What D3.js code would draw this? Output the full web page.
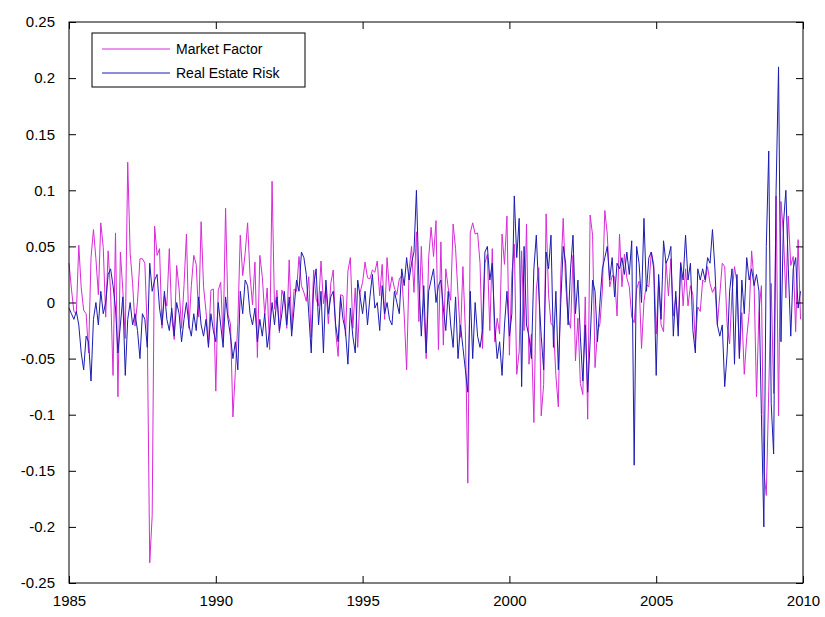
<!DOCTYPE html>
<html>
<head>
<meta charset="utf-8">
<script src="https://cdn.jsdelivr.net/npm/d3@7"></script>
<style>
  body { margin: 0; background: #fff; }
  text { font-family: Arial, "Liberation Sans", sans-serif; }
</style>
</head>
<body>
<div id="chart"></div>
<script>
// Monthly values, Jan 1985 .. Dec 2009, 12 per row
const marketFactor = [
  0.035, 0.012, -0.008, -0.010, 0.051, 0.013, -0.007, -0.010, -0.045, 0.040, 0.065, 0.039,
  0.007, 0.071, 0.049, -0.013, 0.046, 0.010, -0.065, 0.062, -0.084, 0.045, 0.011, -0.032,
  0.125, 0.044, 0.017, -0.021, 0.001, 0.039, 0.039, 0.035, -0.026, -0.232, -0.190, 0.068,
  0.042, 0.048, -0.023, 0.006, -0.003, 0.048, -0.013, -0.033, 0.033, 0.012, -0.023, 0.015,
  0.061, -0.023, 0.015, 0.042, 0.034, -0.013, 0.072, 0.014, -0.008, -0.037, 0.011, 0.012,
  -0.079, 0.011, 0.018, -0.034, 0.084, -0.011, -0.019, -0.102, -0.061, -0.019, 0.060, 0.024,
  0.044, 0.071, 0.024, -0.002, 0.036, -0.049, 0.042, 0.023, -0.011, 0.013, -0.042, 0.108,
  -0.006, 0.011, -0.027, 0.011, 0.003, -0.023, 0.038, -0.024, 0.012, 0.010, 0.041, 0.015,
  0.009, 0.001, 0.023, -0.031, 0.029, 0.003, -0.003, 0.037, -0.001, 0.014, -0.019, 0.017,
  0.029, -0.026, -0.048, 0.007, 0.006, -0.030, 0.028, 0.040, -0.023, 0.013, -0.040, 0.009,
  0.018, 0.036, 0.022, 0.021, 0.029, 0.027, 0.037, 0.006, 0.034, -0.015, 0.040, 0.010,
  0.023, 0.013, 0.007, 0.021, 0.024, -0.011, -0.060, 0.028, 0.050, 0.009, 0.063, -0.017,
  0.050, -0.005, -0.050, 0.040, 0.067, 0.041, 0.073, -0.042, 0.054, -0.038, 0.030, 0.013,
  0.002, 0.070, 0.048, 0.007, -0.031, 0.032, -0.025, -0.161, 0.062, 0.071, 0.061, 0.062,
  0.035, -0.041, 0.035, 0.043, -0.025, 0.048, -0.035, -0.014, -0.028, 0.061, 0.034, 0.077,
  -0.047, 0.025, 0.052, -0.064, -0.044, 0.046, -0.025, 0.070, -0.055, -0.028, -0.107, 0.012,
  0.031, -0.101, -0.073, 0.079, 0.007, -0.019, -0.021, -0.065, -0.093, 0.025, 0.075, 0.016,
  -0.014, -0.023, 0.042, -0.052, -0.014, -0.072, -0.082, 0.005, -0.104, 0.078, 0.060, -0.058,
  -0.026, -0.019, 0.011, 0.082, 0.061, 0.014, 0.024, 0.023, -0.012, 0.061, 0.014, 0.043,
  0.022, 0.014, -0.013, -0.018, 0.012, 0.019, -0.041, 0.001, 0.016, 0.014, 0.045, 0.034,
  -0.028, 0.019, -0.020, -0.026, 0.037, 0.006, 0.039, -0.012, 0.005, -0.020, 0.036, -0.003,
  0.030, -0.003, 0.015, 0.007, -0.036, -0.004, -0.008, 0.020, 0.018, 0.032, 0.017, 0.009,
  0.014, -0.020, 0.007, 0.035, 0.032, -0.020, -0.037, 0.009, 0.032, 0.018, -0.048, -0.009,
  -0.064, -0.031, -0.009, 0.046, 0.019, -0.084, -0.008, 0.015, -0.150, -0.172, -0.079, 0.017,
  -0.081, 0.095, -0.101, 0.090, 0.062, 0.004, 0.077, 0.033, 0.041, -0.026, 0.056, -0.015
];

const realEstateRisk = [
  -0.005, -0.010, -0.015, -0.008, -0.020, -0.045, -0.060, -0.030, -0.035, -0.070, -0.015, 0.000,
  -0.020, 0.010, -0.010, 0.000, 0.025, 0.030, 0.015, -0.005, -0.045, -0.020, 0.005, -0.065,
  -0.015, 0.000, -0.020, -0.010, -0.025, -0.050, -0.010, -0.015, -0.040, 0.035, 0.010, 0.020,
  0.025, -0.005, -0.020, 0.010, -0.015, -0.025, -0.005, -0.030, 0.000, -0.010, -0.035, -0.015,
  0.000, -0.020, -0.030, -0.010, -0.025, 0.005, -0.020, -0.030, -0.015, -0.040, -0.010, -0.025,
  -0.035, 0.000, -0.020, -0.040, 0.005, -0.015, -0.030, -0.050, -0.035, -0.060, 0.010, -0.010,
  0.020, 0.015, -0.010, -0.020, -0.005, -0.035, -0.015, -0.030, -0.010, -0.040, -0.025, 0.000,
  -0.020, 0.005, -0.025, -0.010, 0.010, -0.020, 0.005, -0.030, -0.005, 0.020, 0.010, 0.045,
  0.040, 0.025, -0.010, -0.045, 0.015, 0.030, -0.020, 0.010, -0.045, 0.020, -0.010, 0.005,
  0.010, -0.020, -0.035, 0.005, -0.015, -0.025, -0.055, -0.005, -0.030, -0.045, 0.020, 0.005,
  -0.010, 0.010, -0.020, 0.005, 0.025, -0.005, 0.000, -0.025, 0.015, -0.010, 0.000, -0.015,
  -0.020, 0.010, 0.000, -0.010, 0.030, 0.015, 0.040, 0.020, 0.035, 0.045, 0.100, 0.020,
  -0.030, 0.015, -0.045, 0.010, 0.020, 0.030, 0.000, 0.015, 0.020, -0.005, -0.025, 0.010,
  -0.020, -0.040, 0.005, -0.050, -0.020, -0.040, -0.060, -0.080, 0.010, -0.050, 0.000, -0.030,
  -0.040, -0.025, 0.045, 0.050, 0.020, 0.035, -0.020, -0.050, -0.035, -0.065, -0.020, 0.010,
  -0.030, -0.010, 0.095, 0.040, 0.075, -0.075, 0.050, -0.020, -0.030, -0.050, 0.030, 0.060,
  0.010, -0.030, -0.060, 0.045, 0.030, 0.060, -0.040, 0.010, -0.060, 0.000, 0.050, 0.035,
  -0.020, 0.030, 0.060, -0.010, 0.020, -0.030, -0.070, -0.020, -0.080, -0.035, 0.020, 0.010,
  -0.035, 0.000, 0.030, 0.040, 0.050, 0.020, 0.040, 0.005, 0.035, 0.030, 0.040, 0.025,
  0.045, 0.025, 0.055, -0.145, 0.050, 0.035, 0.000, 0.075, 0.010, 0.040, 0.045, 0.030,
  -0.065, 0.025, -0.015, 0.055, 0.035, 0.040, 0.050, -0.030, 0.010, -0.030, 0.035, 0.020,
  0.060, 0.020, 0.035, -0.025, -0.045, 0.030, 0.020, 0.030, 0.020, 0.040, 0.035, 0.065,
  0.030, -0.020, -0.030, -0.020, -0.075, -0.045, 0.010, 0.030, -0.055, 0.025, -0.050, 0.020,
  -0.010, 0.040, 0.020, 0.030, 0.015, 0.025, 0.010, -0.100, -0.200, 0.050, 0.135, -0.090,
  -0.135, 0.100, 0.210, -0.035, 0.070, 0.100, 0.030, -0.030, 0.030, 0.040, -0.005, 0.010
];

const seriesNames = ["Market Factor", "Real Estate Risk"];
const seriesColors = ["#d82ad8", "#1c1cb0"];
const xTicks = [1985, 1990, 1995, 2000, 2005, 2010];
const yTicks = [-0.25, -0.2, -0.15, -0.1, -0.05, 0, 0.05, 0.1, 0.15, 0.2, 0.25];

const width = 825;
const height = 617;
const margin = { top: 22, right: 22, bottom: 34, left: 69 };

const svg = d3.select("#chart")
    .append("svg")
    .attr("width", width)
    .attr("height", height);

const x = d3.scaleLinear()
    .domain([1985, 2010])
    .range([margin.left, width - margin.right]);

const y = d3.scaleLinear()
    .domain([-0.25, 0.25])
    .range([height - margin.bottom, margin.top]);

const fmt = v => String(+v.toFixed(2));

// lines
const dates = marketFactor.map((d, i) => 1985 + i / 12);
const line = d3.line()
    .x((d, i) => x(dates[i]))
    .y(d => y(d));

[marketFactor, realEstateRisk].forEach((s, k) => {
    svg.append("path")
        .datum(s)
        .attr("d", line)
        .attr("fill", "none")
        .attr("stroke", seriesColors[k])
        .attr("stroke-width", 1);
});

// axes, ticks pointing inward, mirrored on top and right
const tickLen = 7;
svg.append("g")
    .attr("transform", `translate(0, ${height - margin.bottom})`)
    .call(d3.axisBottom(x).tickValues(xTicks).tickFormat(d3.format("d")).tickSizeInner(-tickLen).tickSizeOuter(0).tickPadding(12));
svg.append("g")
    .attr("transform", `translate(0, ${margin.top})`)
    .call(d3.axisTop(x).tickValues(xTicks).tickFormat("").tickSizeInner(-tickLen).tickSizeOuter(0));
svg.append("g")
    .attr("transform", `translate(${margin.left}, 0)`)
    .call(d3.axisLeft(y).tickValues(yTicks).tickFormat(fmt).tickSizeInner(-tickLen).tickSizeOuter(0).tickPadding(14));
svg.append("g")
    .attr("transform", `translate(${width - margin.right}, 0)`)
    .call(d3.axisRight(y).tickValues(yTicks).tickFormat("").tickSizeInner(-tickLen).tickSizeOuter(0));

svg.selectAll(".domain").remove();
svg.selectAll(".tick line").attr("stroke", "#000");
svg.selectAll(".tick text").attr("font-size", 15).attr("fill", "#000")
    .attr("font-family", "Arial, 'Liberation Sans', sans-serif");

svg.append("rect")
    .attr("x", margin.left)
    .attr("y", margin.top)
    .attr("width", width - margin.left - margin.right)
    .attr("height", height - margin.top - margin.bottom)
    .attr("fill", "none")
    .attr("stroke", "#000")
    .attr("stroke-width", 1);

// legend
const legend = svg.append("g").attr("transform", "translate(92, 33)");
legend.append("rect")
    .attr("width", 213)
    .attr("height", 54)
    .attr("fill", "#fff")
    .attr("stroke", "#000");

seriesNames.forEach((name, i) => {
    legend.append("line")
        .attr("x1", 10).attr("x2", 78)
        .attr("y1", 16 + i * 24).attr("y2", 16 + i * 24)
        .attr("stroke", seriesColors[i]);
    legend.append("text")
        .attr("x", 84)
        .attr("y", 16 + i * 24)
        .attr("dy", "0.35em")
        .attr("font-size", 14)
        .text(name);
});
</script>
</body>
</html>
